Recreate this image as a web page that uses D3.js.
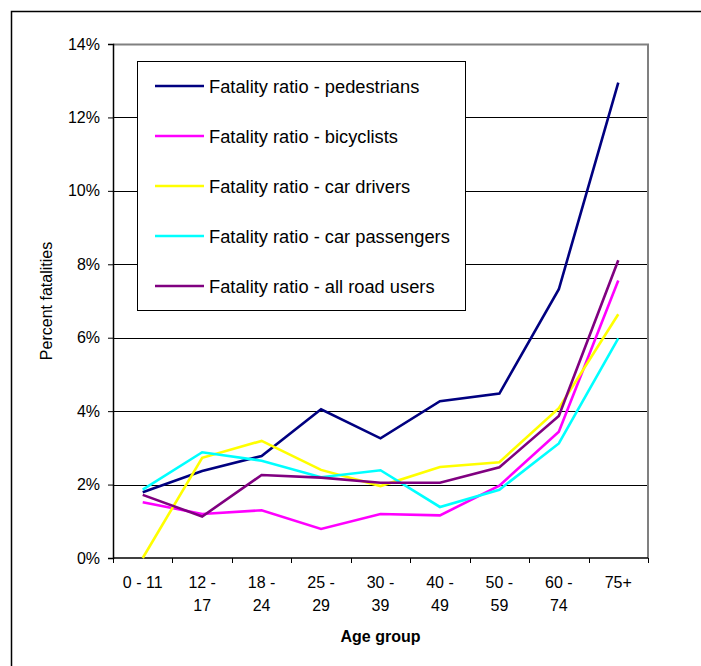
<!DOCTYPE html>
<html>
<head>
<meta charset="utf-8">
<script src="https://cdn.jsdelivr.net/npm/d3@7"></script>
<style>
  html, body { margin: 0; padding: 0; background: #fff; }
  svg { display: block; font-family: "Liberation Sans", Arial, sans-serif; }
</style>
</head>
<body>
<svg id="chart" width="701" height="666"></svg>
<script>
// Age groups (two-line labels as wrapped on the axis)
const ageGroups = ["0 - 11", "12 - 17", "18 - 24", "25 - 29", "30 - 39", "40 - 49", "50 - 59", "60 - 74", "75+"];
const ageLabelLines = [["0 - 11"], ["12 -", "17"], ["18 -", "24"], ["25 -", "29"], ["30 -", "39"], ["40 -", "49"], ["50 -", "59"], ["60 -", "74"], ["75+"]];

// Fatality ratio (percent) per age group
const pedestrians   = [1.79, 2.37, 2.78, 4.05, 3.26, 4.27, 4.48, 7.32, 12.95];
const bicyclists    = [1.52, 1.20, 1.30, 0.79, 1.20, 1.16, 1.97, 3.44, 7.56];
const carDrivers    = [0.00, 2.73, 3.19, 2.40, 1.96, 2.48, 2.61, 4.08, 6.64];
const carPassengers = [1.86, 2.88, 2.65, 2.20, 2.39, 1.39, 1.86, 3.12, 5.98];
const allRoadUsers  = [1.72, 1.13, 2.26, 2.19, 2.05, 2.05, 2.47, 3.87, 8.11];

const seriesNames = [
  "Fatality ratio - pedestrians",
  "Fatality ratio - bicyclists",
  "Fatality ratio - car drivers",
  "Fatality ratio - car passengers",
  "Fatality ratio - all road users"
];
const seriesValues = [pedestrians, bicyclists, carDrivers, carPassengers, allRoadUsers];
const seriesColors = ["#000080", "#FF00FF", "#FFFF00", "#00FFFF", "#800080"];

const yTicks = [0, 2, 4, 6, 8, 10, 12, 14];

const svg = d3.select("#chart");

// Outer chart frame
svg.append("rect")
  .attr("x", 11.5).attr("y", 11.5)
  .attr("width", 720).attr("height", 700)
  .attr("fill", "none").attr("stroke", "#000").attr("stroke-width", 1.5);

const plot = { left: 113, top: 44, right: 648, bottom: 558 };

const x = d3.scaleBand().domain(ageGroups).range([plot.left, plot.right]).padding(0);
const y = d3.scaleLinear().domain([0, 14]).range([plot.bottom, plot.top]);

// Horizontal gridlines
svg.append("g").selectAll("line")
  .data(yTicks.filter(d => d > 0 && d < 14))
  .join("line")
  .attr("x1", plot.left).attr("x2", plot.right)
  .attr("y1", d => Math.round(y(d)) + 0.5).attr("y2", d => Math.round(y(d)) + 0.5)
  .attr("stroke", "#000").attr("stroke-width", 1);

// Plot area border (top and right, grey)
svg.append("path")
  .attr("d", `M${plot.left},${plot.top + 0.5}H${plot.right}V${plot.bottom}`)
  .attr("fill", "none").attr("stroke", "#808080").attr("stroke-width", 2);

// Y axis
const yAxis = svg.append("g")
  .attr("transform", `translate(${plot.left},0)`)
  .call(d3.axisLeft(y).tickValues(yTicks).tickFormat(d => d + "%").tickSize(5).tickPadding(8));
yAxis.select(".domain").attr("stroke", "#000").attr("stroke-width", 1.5);
yAxis.selectAll(".tick line").attr("stroke", "#000");
yAxis.selectAll(".tick text")
  .attr("font-family", "Liberation Sans, Arial, sans-serif")
  .attr("font-size", 16).attr("fill", "#000");

// X axis: baseline, boundary ticks and wrapped labels
const xAxis = svg.append("g").attr("transform", `translate(0,${plot.bottom})`);
xAxis.append("line")
  .attr("x1", plot.left).attr("x2", plot.right)
  .attr("y1", 0).attr("y2", 0)
  .attr("stroke", "#000").attr("stroke-width", 1.5);
const boundaries = ageGroups.map(d => x(d)).concat([plot.right]);
xAxis.selectAll("line.tick")
  .data(boundaries)
  .join("line")
  .attr("class", "tick")
  .attr("x1", d => Math.round(d) + 0.5).attr("x2", d => Math.round(d) + 0.5)
  .attr("y1", 0).attr("y2", 5)
  .attr("stroke", "#000");
const labels = xAxis.selectAll("text.lab")
  .data(ageGroups)
  .join("text")
  .attr("class", "lab")
  .attr("text-anchor", "middle")
  .attr("font-size", 16)
  .attr("fill", "#000");
labels.each(function (d, i) {
  const t = d3.select(this);
  ageLabelLines[i].forEach((line, k) => {
    t.append("tspan")
      .attr("x", x(d) + x.bandwidth() / 2)
      .attr("y", 30 + k * 23)
      .text(line);
  });
});

// Axis titles
svg.append("text")
  .attr("x", (plot.left + plot.right) / 2)
  .attr("y", 642)
  .attr("text-anchor", "middle")
  .attr("font-size", 16).attr("font-weight", "bold")
  .text("Age group");

svg.append("text")
  .attr("transform", `translate(52,${(plot.top + plot.bottom) / 2}) rotate(-90)`)
  .attr("text-anchor", "middle")
  .attr("font-size", 16)
  .text("Percent fatalities");

// Series lines
const line = d3.line()
  .x((d, i) => x(ageGroups[i]) + x.bandwidth() / 2)
  .y(d => y(d));

svg.append("g").selectAll("path")
  .data(seriesValues)
  .join("path")
  .attr("d", d => line(d))
  .attr("fill", "none")
  .attr("stroke", (d, i) => seriesColors[i])
  .attr("stroke-width", 2.6)
  .attr("stroke-linejoin", "miter");

// Legend
const legend = svg.append("g");
legend.append("rect")
  .attr("x", 137.5).attr("y", 61.5)
  .attr("width", 328).attr("height", 249)
  .attr("fill", "#fff").attr("stroke", "#000").attr("stroke-width", 1);
const items = legend.selectAll("g.item")
  .data(seriesNames)
  .join("g")
  .attr("class", "item")
  .attr("transform", (d, i) => `translate(0,${86 + i * 50})`);
items.append("line")
  .attr("x1", 155).attr("x2", 204)
  .attr("y1", 0).attr("y2", 0)
  .attr("stroke", (d, i) => seriesColors[i])
  .attr("stroke-width", 2.6);
items.append("text")
  .attr("x", 209).attr("y", 6.5)
  .attr("font-size", 18.3)
  .attr("fill", "#000")
  .text(d => d);
</script>
</body>
</html>
